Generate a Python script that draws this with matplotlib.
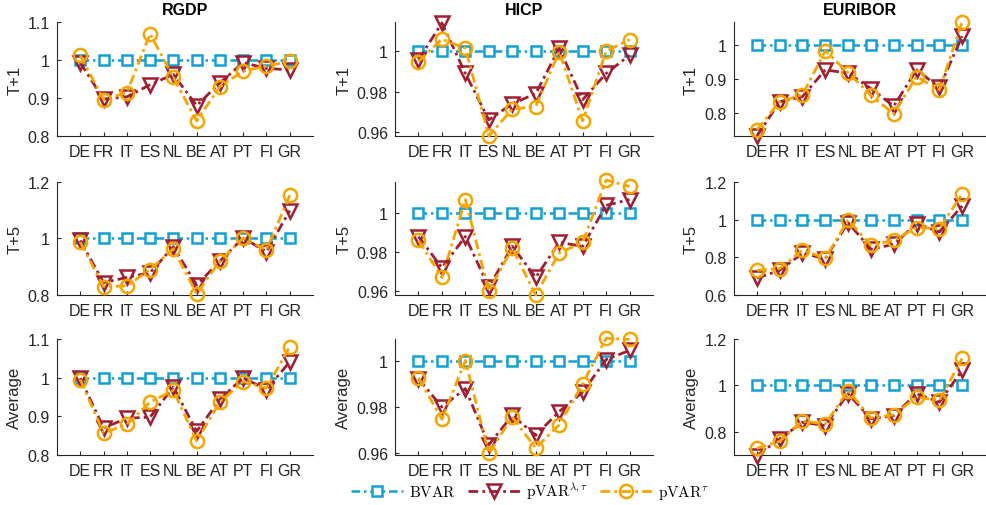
import matplotlib
matplotlib.use('Agg')
import matplotlib.pyplot as plt

plt.rcParams['font.family'] = ['Liberation Sans', 'DejaVu Sans']
plt.rcParams['mathtext.fontset'] = 'cm'

countries = ['DE', 'FR', 'IT', 'ES', 'NL', 'BE', 'AT', 'PT', 'FI', 'GR']
variables = ['RGDP', 'HICP', 'EURIBOR']
horizons = ['T+1', 'T+5', 'Average']

bvar = [1.0] * 10

# pVAR lambda,tau (triangles)
rgdp_t1_lt = [0.993, 0.897, 0.903, 0.935, 0.962, 0.880, 0.940, 0.993, 0.978, 0.974]
hicp_t1_lt = [0.9958, 1.014, 0.989, 0.966, 0.974, 0.979, 1.0015, 0.976, 0.989, 0.998]
eur_t1_lt = [0.731, 0.833, 0.848, 0.927, 0.917, 0.872, 0.820, 0.927, 0.875, 1.026]
rgdp_t5_lt = [0.993, 0.844, 0.862, 0.879, 0.971, 0.835, 0.920, 1.002, 0.953, 1.099]
hicp_t5_lt = [0.988, 0.972, 0.988, 0.962, 0.983, 0.967, 0.985, 0.983, 1.004, 1.007]
eur_t5_lt = [0.689, 0.731, 0.821, 0.793, 0.984, 0.843, 0.869, 0.979, 0.935, 1.073]
rgdp_av_lt = [0.999, 0.870, 0.895, 0.898, 0.976, 0.861, 0.944, 1.000, 0.969, 1.041]
hicp_av_lt = [0.9923, 0.980, 0.988, 0.9635, 0.9763, 0.9676, 0.978, 0.9865, 1.0007, 1.0047]
eur_av_lt = [0.697, 0.769, 0.841, 0.827, 0.964, 0.856, 0.870, 0.964, 0.928, 1.065]

# pVAR tau (circles)
rgdp_t1_t = [1.012, 0.896, 0.914, 1.069, 0.954, 0.840, 0.930, 0.971, 0.984, 0.997]
hicp_t1_t = [0.9949, 1.006, 1.0015, 0.958, 0.9713, 0.9726, 0.9998, 0.9655, 1.000, 1.0058]
eur_t1_t = [0.750, 0.833, 0.854, 0.983, 0.919, 0.852, 0.797, 0.907, 0.868, 1.069]
rgdp_t5_t = [0.987, 0.830, 0.832, 0.890, 0.964, 0.804, 0.920, 1.002, 0.959, 1.153]
hicp_t5_t = [0.986, 0.967, 1.007, 0.960, 0.982, 0.958, 0.9795, 0.985, 1.017, 1.0137]
eur_t5_t = [0.731, 0.740, 0.838, 0.795, 0.998, 0.864, 0.890, 0.958, 0.952, 1.138]
rgdp_av_t = [0.995, 0.857, 0.879, 0.937, 0.967, 0.836, 0.937, 0.990, 0.973, 1.080]
hicp_av_t = [0.9927, 0.9746, 1.0003, 0.9597, 0.9756, 0.962, 0.9722, 0.990, 1.010, 1.0095]
eur_av_t = [0.729, 0.759, 0.846, 0.834, 0.978, 0.860, 0.873, 0.949, 0.935, 1.116]

lt_data = [[rgdp_t1_lt, hicp_t1_lt, eur_t1_lt],
           [rgdp_t5_lt, hicp_t5_lt, eur_t5_lt],
           [rgdp_av_lt, hicp_av_lt, eur_av_lt]]
t_data = [[rgdp_t1_t, hicp_t1_t, eur_t1_t],
          [rgdp_t5_t, hicp_t5_t, eur_t5_t],
          [rgdp_av_t, hicp_av_t, eur_av_t]]

ylims = [[(0.8, 1.1), (0.958, 1.0145), (0.732, 1.068)],
         [(0.8, 1.2), (0.958, 1.016), (0.6, 1.2)],
         [(0.8, 1.1), (0.959, 1.0097), (0.7, 1.2)]]
yticks = [[[0.8, 0.9, 1.0, 1.1], [0.96, 0.98, 1.0], [0.8, 0.9, 1.0]],
          [[0.8, 1.0, 1.2], [0.96, 0.98, 1.0], [0.6, 0.8, 1.0, 1.2]],
          [[0.8, 0.9, 1.0, 1.1], [0.96, 0.98, 1.0], [0.8, 1.0, 1.2]]]

blue = '#14a0d4'
red = '#a01e32'
orange = '#f5a500'
gray = '#262626'
dd = (3.5, 1.5, 1, 1.5)  # matlab-like dash-dot

W, H = 986, 506
fig = plt.figure(figsize=(W / 100, H / 100), dpi=100)

col_lr = [(57, 313), (395, 653), (734, 985)]
row_tb = [(23, 137), (183, 296), (340, 456)]

x = list(range(1, 11))
handles = None
for r in range(3):
    for c in range(3):
        l, rr = col_lr[c]
        t, b = row_tb[r]
        ax = fig.add_axes([l / W, 1 - b / H, (rr - l) / W, (b - t) / H])
        h1, = ax.plot(x, bvar, color=blue, ls='-.', dashes=dd, lw=1.8, marker='s', ms=7,
                      mfc='white', mec=blue, mew=1.8, zorder=2, clip_on=False)
        h2, = ax.plot(x, lt_data[r][c], color=red, ls='-.', dashes=dd, lw=2, marker='v', ms=10.5,
                      mfc='none', mec=red, mew=1.8, zorder=3, clip_on=False)
        h3, = ax.plot(x, t_data[r][c], color=orange, ls='-.', dashes=dd, lw=2, marker='o', ms=9.5,
                      mfc='none', mec=orange, mew=1.8, zorder=4, clip_on=False)
        handles = [h1, h2, h3]
        ax.set_xlim(0, 11)
        ax.set_ylim(*ylims[r][c])
        ax.set_xticks(x)
        ax.set_xticklabels(countries)
        ax.set_yticks(yticks[r][c])
        ax.set_yticklabels(['%g' % v for v in yticks[r][c]])
        for s in ['top', 'right']:
            ax.spines[s].set_visible(False)
        for s in ['left', 'bottom']:
            ax.spines[s].set_color(gray)
            ax.spines[s].set_linewidth(0.8)
        ax.tick_params(direction='in', length=3, width=0.8, colors=gray,
                       labelsize=11.5, pad=5)
        ax.tick_params(axis='x', pad=6)
        ax.set_ylabel(horizons[r], fontsize=12, color=gray, labelpad=4)
        if r == 0:
            ax.set_title(variables[c], fontsize=11.5, fontweight='bold', pad=6)

fig.legend(handles, [r'$\mathrm{BVAR}$', r'$\mathrm{pVAR}^{\lambda,\tau}$', r'$\mathrm{pVAR}^{\tau}$'],
           loc='center', bbox_to_anchor=(530 / W, 1 - 492 / H), ncol=3, frameon=False,
           fontsize=11, handlelength=3.4, columnspacing=0.8, handletextpad=0.4)

fig.savefig('out.png', dpi=100)
